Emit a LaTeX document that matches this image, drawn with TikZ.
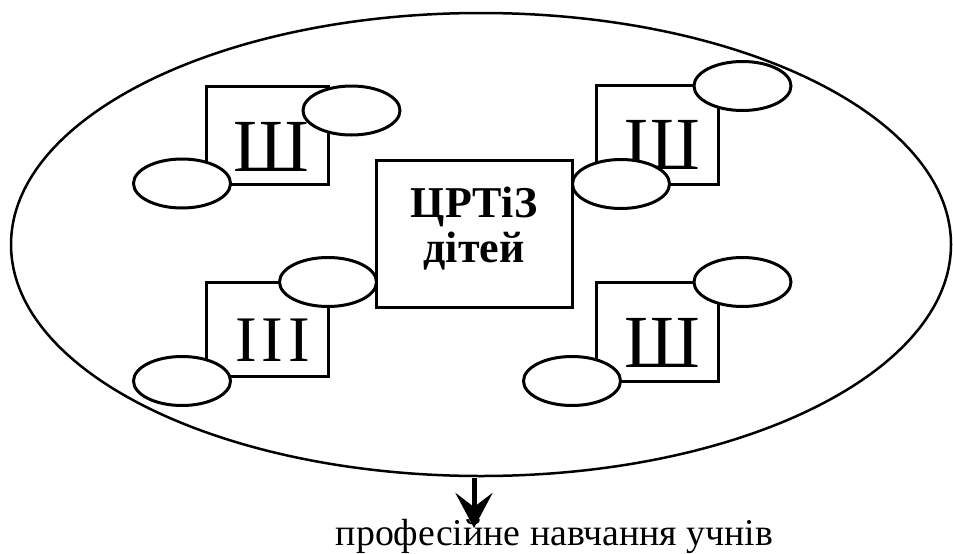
\documentclass[tikz,border=0pt]{standalone}
\usepackage{fontspec}
\setmainfont{Liberation Serif}
\usetikzlibrary{shapes.geometric,arrows.meta}
\begin{document}
\begin{tikzpicture}[x=1pt,y=-1pt,
  bigell/.style={ellipse,draw,line width=2.5pt,inner sep=0pt,minimum width=940pt,minimum height=463pt},
  smell/.style={ellipse,draw,fill=white,line width=3pt,inner sep=0pt,minimum width=97pt,minimum height=49pt},
  shletter/.style={inner sep=0pt,anchor=base,font=\fontsize{75}{80}\selectfont},
  ctext/.style={inner sep=0pt,anchor=base,font=\fontsize{44}{47}\selectfont\bfseries},
  bottomtext/.style={inner sep=0pt,anchor=base,font=\fontsize{37.8}{40}\selectfont},
  bigarrow/.style={line width=5pt,-{Stealth[length=35pt,width=37pt,inset=14pt]}}
]
\useasboundingbox (0,0) rectangle (953,554);
\node[bigell] (big) at (481,244.5) {};
% boxes
\draw[line width=3pt] (206,86) rectangle (328,184);
\draw[line width=3pt] (596,85) rectangle (718,184);
\draw[line width=3pt] (206,282) rectangle (328,376);
\draw[line width=3pt] (596,282) rectangle (718,381);
\draw[line width=3pt] (376,160) rectangle (572,307);
% letters
\node[shletter] (s1) at (271,171) {Ш};
\node[shletter] (s2) at (662.5,169) {Ш};
\node[shletter,font=\fontsize{65}{70}\selectfont] (s3) at (272.5,361) {I\kern5pt I\kern5pt I};
\node[shletter] (s4) at (662.5,367) {Ш};
\node[ctext] (c1) at (474,217) {ЦРТіЗ};
\node[ctext] (c2) at (474,262) {дітей};
% small ellipses
\node[smell] (e1a) at (351.5,110.5) {};
\node[smell] (e1b) at (182,183.5) {};
\node[smell] (e2a) at (742.5,86) {};
\node[smell] (e2b) at (621,184) {};
\node[smell] (e3a) at (328,282) {};
\node[smell] (e3b) at (182,381) {};
\node[smell] (e4a) at (742.5,282) {};
\node[smell] (e4b) at (572,381) {};
% bottom
\node[bottomtext] (bt) at (554.5,545) {професійне навчання учнів};
\coordinate (a0) at (474,478);
\coordinate (a1) at (474,528);
\draw[bigarrow] (a0) -- (a1);
\end{tikzpicture}
\end{document}
